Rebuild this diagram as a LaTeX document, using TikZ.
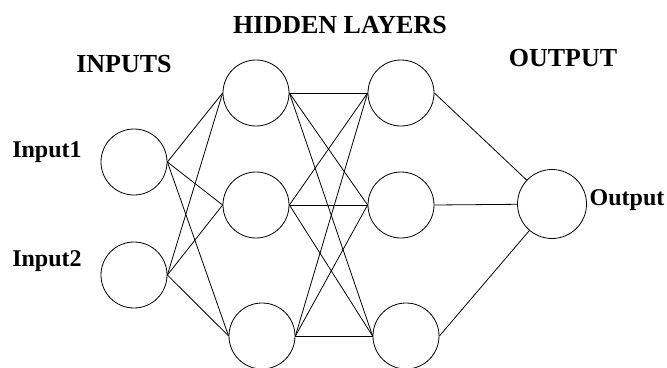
\documentclass[tikz,border=0pt]{standalone}
\usepackage{fontspec}
\setmainfont{Liberation Serif}
\tikzset{
  nv/.style={circle, draw=black, fill=white, line width=0.8pt, minimum size=66pt,
             inner sep=0pt},                                          % neuron
  ue/.style={draw=black, line width=0.8pt},                           % weight edge
  hd/.style={font=\fontsize{26}{28}\selectfont\bfseries, inner sep=0pt}, % layer heading
  lb/.style={font=\fontsize{24}{26}\selectfont\bfseries, inner sep=0pt}, % unit label
}

\begin{document}
\begin{tikzpicture}[x=1pt, y=-1pt]
  \useasboundingbox (0,0) rectangle (667,367);
  \node[nv] (i1)  at (134,162) {};
  \node[nv] (i2)  at (134,275) {};
  \node[nv] (h1a) at (256,93)  {};
  \node[nv] (h1b) at (256,205) {};
  \node[nv] (h1c) at (262,336) {};
  \node[nv] (h2a) at (401,93)  {};
  \node[nv] (h2b) at (401,205) {};
  \node[nv] (h2c) at (406,336) {};
  \node[nv, minimum size=69pt] (out) at (552,204) {};
  \foreach \u in {i1,i2} \foreach \v in {h1a,h1b,h1c} \draw[ue] (\u.east)--(\v.west);
  \foreach \u in {h1a,h1b,h1c} \foreach \v in {h2a,h2b,h2c} \draw[ue] (\u.east)--(\v.west);
  \foreach \u in {h2a,h2b,h2c} \draw[ue] (\u.east)--(out);
  \node[lb] (l1) at (47,152)  {Input1};
  \node[lb] (l2) at (47,261)  {Input2};
  \node[lb] (lo) at (627,200) {Output};
  \node[hd] (ti) at (124,64)  {INPUTS};
  \node[hd] (th) at (340,25)  {HIDDEN LAYERS};
  \node[hd] (to) at (563,58)  {OUTPUT};
\end{tikzpicture}
\end{document}
